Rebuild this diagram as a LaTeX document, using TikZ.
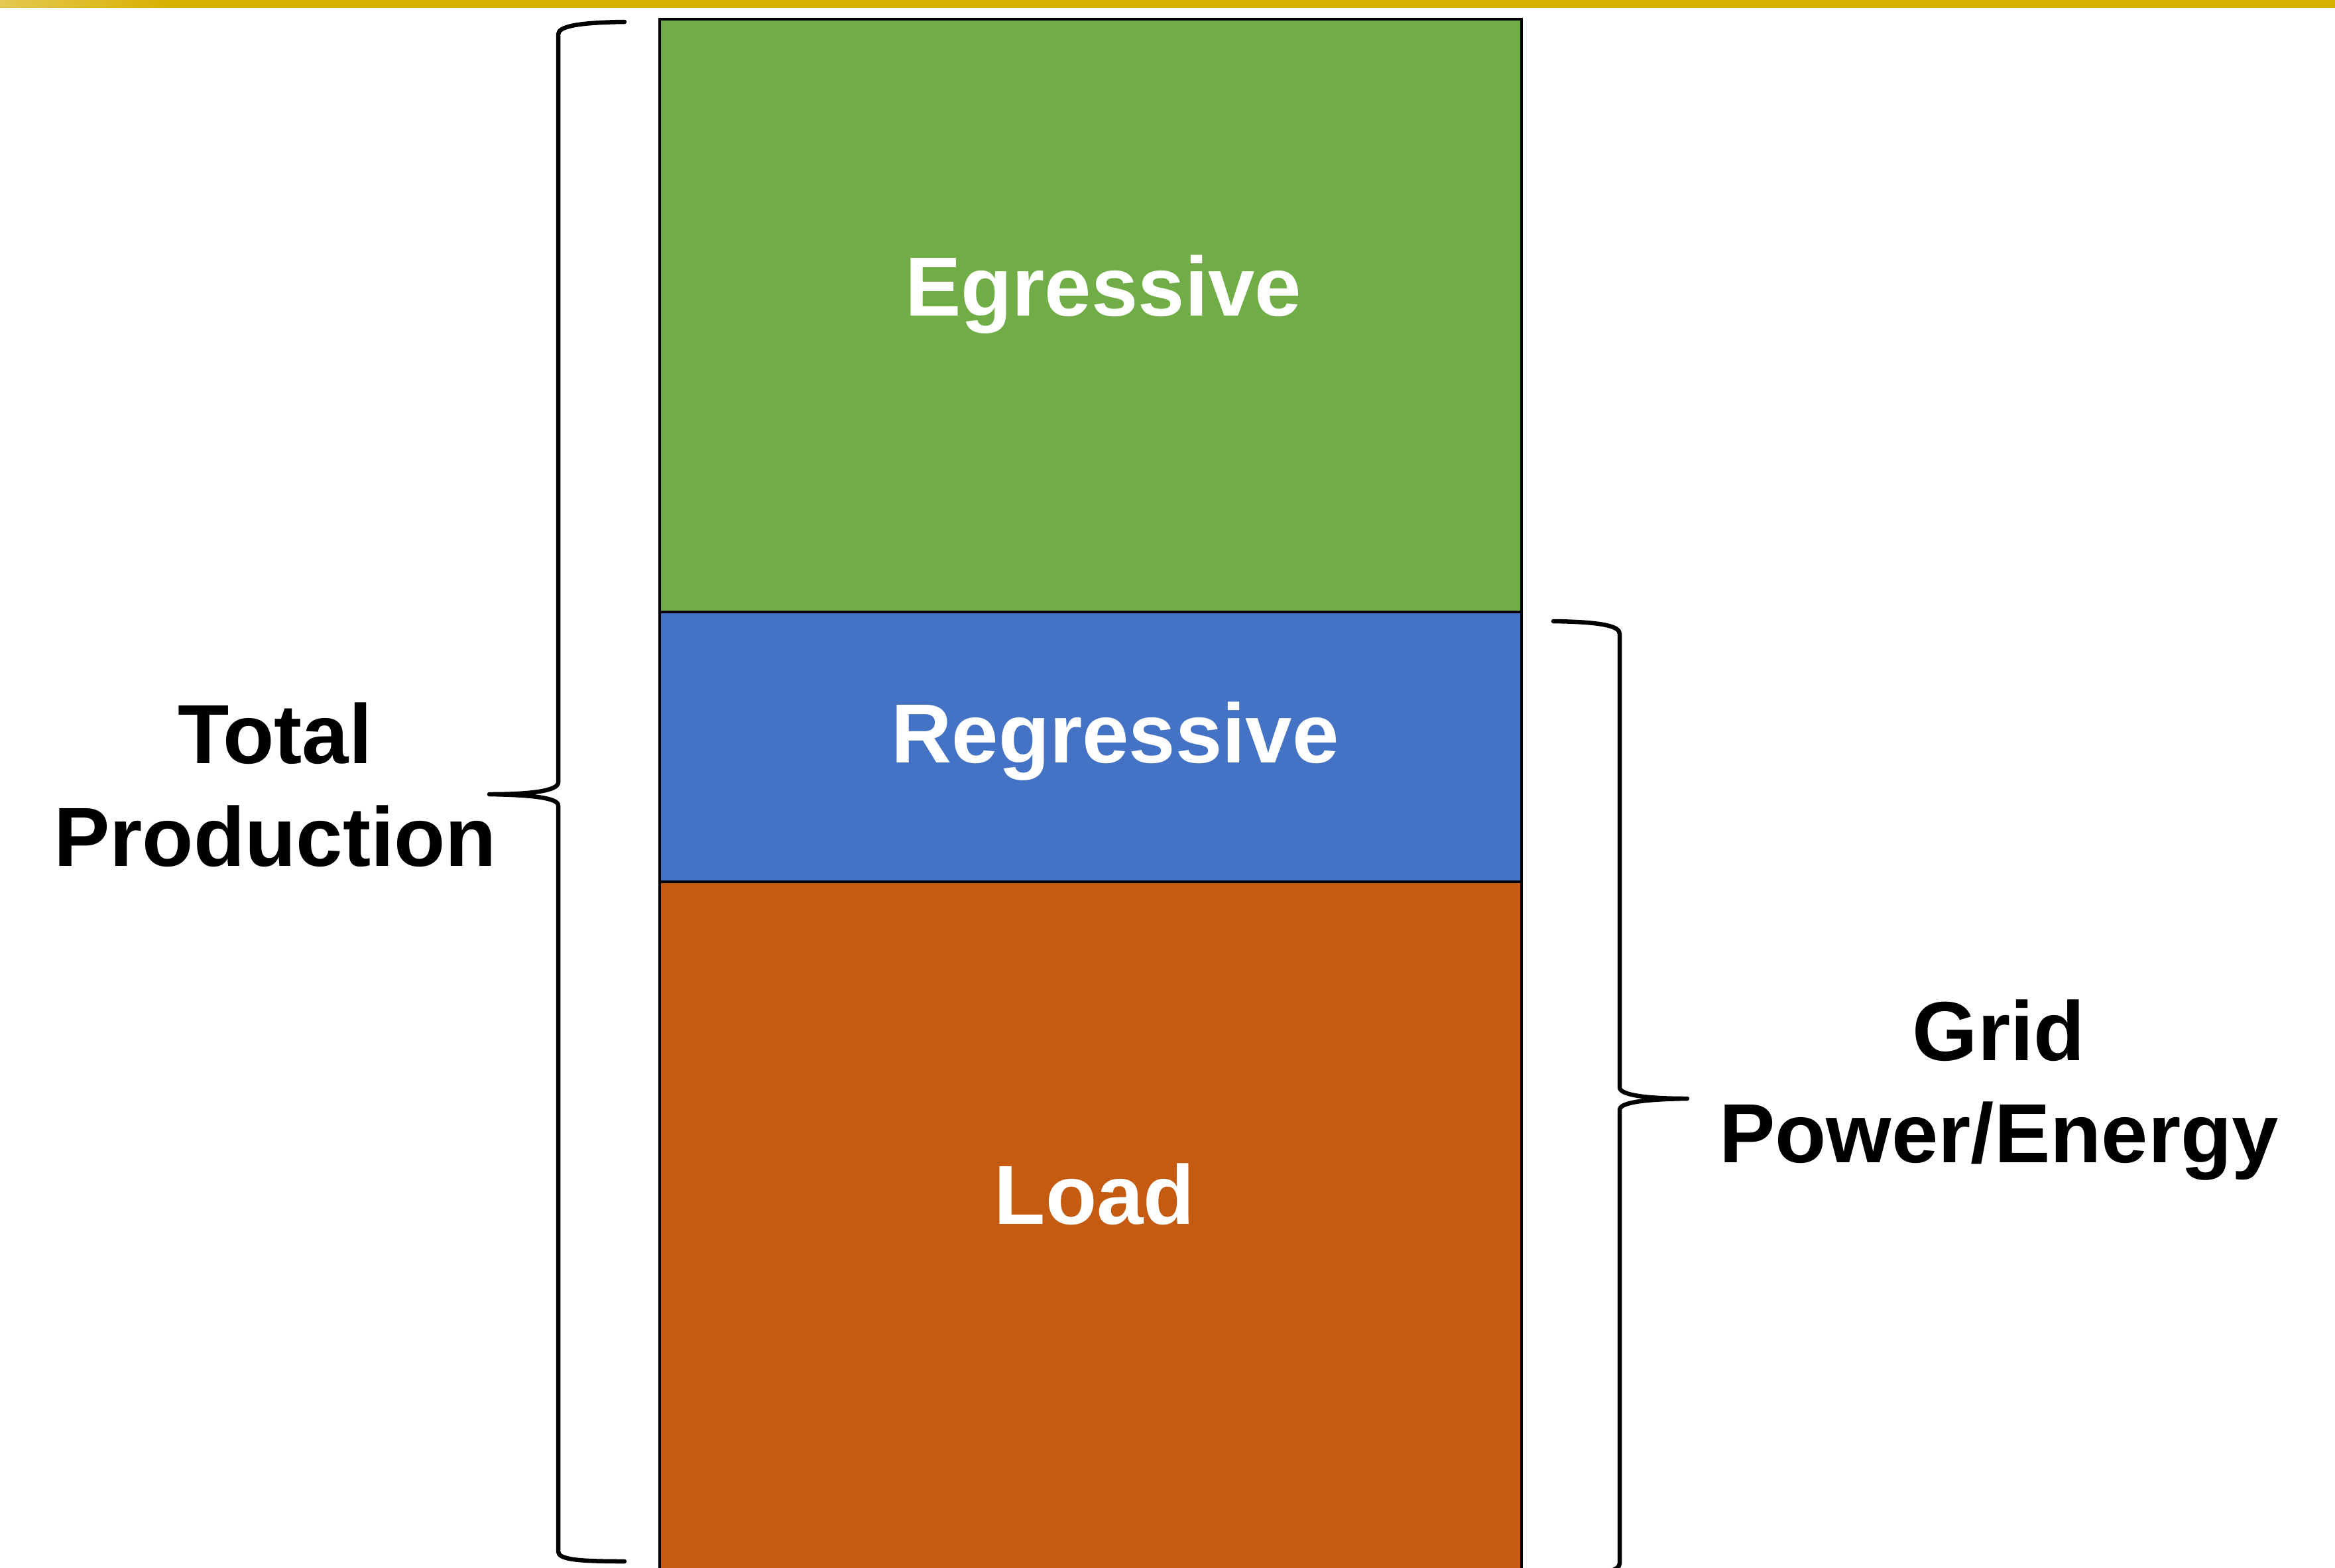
\documentclass[tikz,border=0pt]{standalone}
\usepackage{fontspec}
\setmainfont{Liberation Sans}
\definecolor{barGold}{RGB}{216,176,0}
\definecolor{barLight}{RGB}{228,200,80}
\definecolor{egrGreen}{RGB}{112,173,71}
\definecolor{regBlue}{RGB}{68,114,196}
\definecolor{loadOrange}{RGB}{197,90,17}
\tikzset{
  block/.style={draw=black, line width=1.4pt},
  blocktext/.style={text=white, font=\bfseries\fontsize{36}{44}\selectfont, anchor=base, inner sep=0pt},
  sidetext/.style={text=black, font=\bfseries\fontsize{36}{44}\selectfont, align=center, inner sep=0pt},
  brace/.style={draw=black, line width=1.85pt, line cap=round, line join=round}
}
\begin{document}
\begin{tikzpicture}[y=-1cm]
  \useasboundingbox (0,0) rectangle (35.22,23.64);
  \clip (0,0) rectangle (35.22,23.64);
  % top bar
  \fill[barGold] (0,0) rectangle (35.22,0.12);
  \shade[left color=barLight, right color=barGold] (0,0) rectangle (2.6,0.12);
  % stacked blocks
  \filldraw[block, fill=egrGreen] (9.95,0.29) rectangle (22.95,9.23);
  \filldraw[block, fill=regBlue] (9.95,9.23) rectangle (22.95,13.30);
  \filldraw[block, fill=loadOrange] (9.95,13.30) rectangle (22.95,24.00);
  \node[blocktext] (egr) at (16.64,4.76) {Egressive};
  \node[blocktext] (reg) at (16.82,11.50) {Regressive};
  \node[blocktext] (load) at (16.51,18.46) {Load};
  % left brace
  \draw[brace] (9.42,0.33) .. controls (8.70,0.34) and (8.42,0.40) .. (8.42,0.52)
    -- (8.42,11.80) .. controls (8.42,11.93) and (8.00,11.98) .. (7.38,11.98)
    .. controls (8.00,11.99) and (8.42,12.03) .. (8.42,12.15)
    -- (8.42,23.40) .. controls (8.42,23.52) and (8.70,23.55) .. (9.42,23.55);
  % right brace
  \draw[brace] (23.43,9.37) .. controls (24.15,9.38) and (24.43,9.44) .. (24.43,9.56)
    -- (24.43,16.40) .. controls (24.43,16.52) and (24.85,16.57) .. (25.45,16.57)
    .. controls (24.85,16.58) and (24.43,16.62) .. (24.43,16.74)
    -- (24.43,23.58) .. controls (24.43,23.70) and (24.15,23.76) .. (23.43,23.77);
  \node[sidetext] (total) at (4.15,11.84) {Total\\Production};
  \node[sidetext] (grid) at (30.15,16.44) {Grid\\Power/Energy};
\end{tikzpicture}
\end{document}
